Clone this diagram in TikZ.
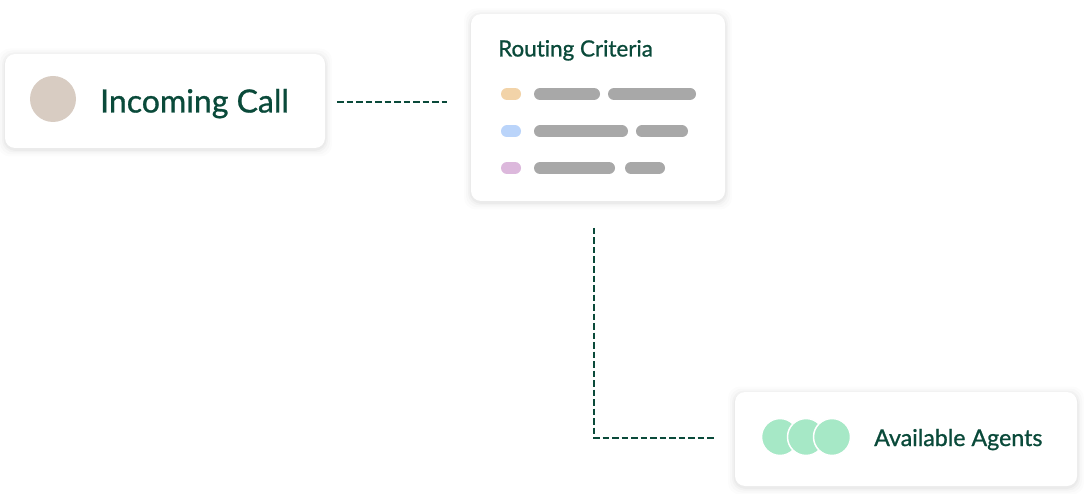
\documentclass[tikz,border=0pt]{standalone}
\usepackage{fontspec}
\setmainfont{Lato}[Ligatures={NoCommon}]
\newfontfamily\medfont{Lato}[FakeBold=0.9, Ligatures={NoCommon}]
\definecolor{ink}{RGB}{10,74,58}
\definecolor{callc}{RGB}{216,204,194}
\definecolor{agentc}{RGB}{166,232,198}
\definecolor{barc}{RGB}{168,168,168}
\definecolor{orc}{RGB}{242,211,168}
\definecolor{blc}{RGB}{186,212,250}
\definecolor{puc}{RGB}{220,184,220}
\tikzset{
  card/.style={fill=white, rounded corners=10pt},
  link/.style={draw=ink, line width=2pt, dash pattern=on 6.5pt off 3pt},
  bar/.style={line width=12pt, line cap=round, draw=barc},
  label/.style={text=ink, anchor=base west, inner sep=0pt},
}
\newcommand{\shadowcard}[4]{%
  \foreach \s/\o in {7/0.012,5/0.016,3/0.022,1.5/0.028}{
    \fill[black, opacity=\o, rounded corners=12pt] (#1-\s,#2-\s+1.5) rectangle (#3+\s,#4+\s+1.5);
  }
  \fill[card] (#1,#2) rectangle (#3,#4);
}
\begin{document}
\begin{tikzpicture}[x=1pt,y=-1pt]
\useasboundingbox[fill=white] (0,0) rectangle (1086,494);
% Incoming call
\shadowcard{5}{54}{325}{148}
\node[circle, fill=callc, minimum size=46pt, inner sep=0pt] (callc) at (53,99) {};
\node[label, font=\medfont\fontsize{32}{34}\selectfont] (calltxt) at (100,112.5) {Incoming Call};
\coordinate (l1a) at (337,102);
\coordinate (l1b) at (447,102);
\draw[link] (l1a) -- (l1b);
% Routing criteria
\shadowcard{471}{14}{725}{201}
\node[label, font=\medfont\fontsize{22.4}{25}\selectfont] (rtitle) at (498,56.5) {Routing Criteria};
\draw[line width=12pt, line cap=round, draw=orc] (507,94) -- (515,94);
\draw[line width=12pt, line cap=round, draw=blc] (507,131.5) -- (515,131.5);
\draw[line width=12pt, line cap=round, draw=puc] (507,168) -- (515,168);
\draw[bar] (540,94) -- (594,94);
\draw[bar] (614,94) -- (690,94);
\draw[bar] (540,131.5) -- (622,131.5);
\draw[bar] (642,131.5) -- (682,131.5);
\draw[bar] (540,168) -- (609,168);
\draw[bar] (631,168) -- (659,168);
% connector down
\coordinate (l2a) at (594,228);
\coordinate (l2b) at (715,438);
\draw[link] (l2a) |- (l2b);
% Available agents
\shadowcard{735}{392}{1077}{486}
\foreach \cx/\nm in {780/a1,806/a2,832/a3}{
  \node[circle, fill=agentc, draw=white, line width=1.5pt, minimum size=37pt, inner sep=0pt] (\nm) at (\cx,437) {};
}
\node[label, font=\medfont\fontsize{23.2}{26}\selectfont] (atxt) at (874,446) {Available Agents};
\end{tikzpicture}
\end{document}
